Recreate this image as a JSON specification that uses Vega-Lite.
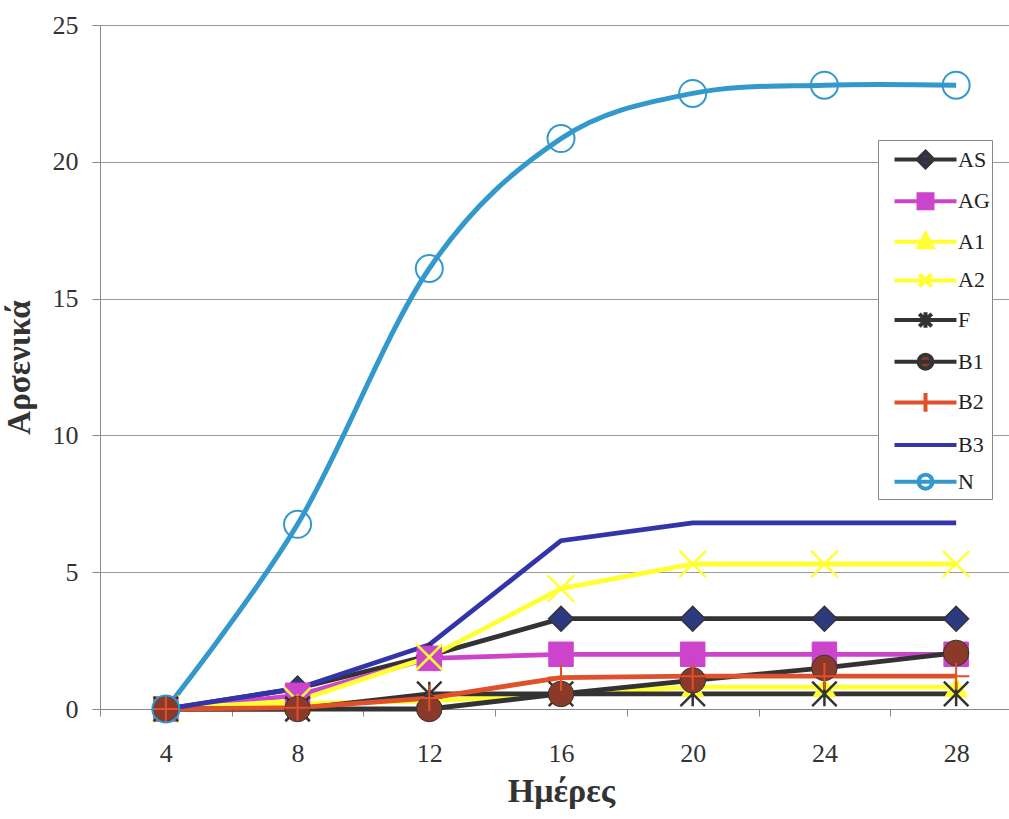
{
  "$schema": "https://vega.github.io/schema/vega-lite/v6.json",
  "width": 909,
  "height": 684,
  "autosize": "none",
  "padding": {"left": 100, "top": 25, "right": 0, "bottom": 110},
  "background": "white",
  "config": {
    "view": {"stroke": null},
    "axis": {
      "labelFont": "Liberation Serif",
      "titleFont": "Liberation Serif",
      "labelColor": "#333333",
      "titleColor": "#333333",
      "domainColor": "#888888",
      "tickColor": "#888888",
      "gridColor": "#9a9a9a"
    }
  },
  "data": {
    "values": [
      {"day": 4, "series": "AS", "value": 0}, {"day": 8, "series": "AS", "value": 0.75}, {"day": 12, "series": "AS", "value": 1.95}, {"day": 16, "series": "AS", "value": 3.3}, {"day": 20, "series": "AS", "value": 3.3}, {"day": 24, "series": "AS", "value": 3.3}, {"day": 28, "series": "AS", "value": 3.3},
      {"day": 4, "series": "AG", "value": 0}, {"day": 8, "series": "AG", "value": 0.5}, {"day": 12, "series": "AG", "value": 1.85}, {"day": 16, "series": "AG", "value": 2.0}, {"day": 20, "series": "AG", "value": 2.0}, {"day": 24, "series": "AG", "value": 2.0}, {"day": 28, "series": "AG", "value": 2.0},
      {"day": 4, "series": "A1", "value": 0}, {"day": 8, "series": "A1", "value": 0.2}, {"day": 12, "series": "A1", "value": 0.3}, {"day": 16, "series": "A1", "value": 0.55}, {"day": 20, "series": "A1", "value": 0.8}, {"day": 24, "series": "A1", "value": 0.8}, {"day": 28, "series": "A1", "value": 0.8},
      {"day": 4, "series": "A2", "value": 0}, {"day": 8, "series": "A2", "value": 0.3}, {"day": 12, "series": "A2", "value": 1.9}, {"day": 16, "series": "A2", "value": 4.4}, {"day": 20, "series": "A2", "value": 5.3}, {"day": 24, "series": "A2", "value": 5.3}, {"day": 28, "series": "A2", "value": 5.3},
      {"day": 4, "series": "F", "value": 0}, {"day": 8, "series": "F", "value": 0}, {"day": 12, "series": "F", "value": 0.55}, {"day": 16, "series": "F", "value": 0.55}, {"day": 20, "series": "F", "value": 0.55}, {"day": 24, "series": "F", "value": 0.55}, {"day": 28, "series": "F", "value": 0.55},
      {"day": 4, "series": "B1", "value": 0}, {"day": 8, "series": "B1", "value": 0}, {"day": 12, "series": "B1", "value": 0}, {"day": 16, "series": "B1", "value": 0.55}, {"day": 20, "series": "B1", "value": 1.05}, {"day": 24, "series": "B1", "value": 1.5}, {"day": 28, "series": "B1", "value": 2.05},
      {"day": 4, "series": "B2", "value": 0}, {"day": 8, "series": "B2", "value": 0.05}, {"day": 12, "series": "B2", "value": 0.4}, {"day": 16, "series": "B2", "value": 1.15}, {"day": 20, "series": "B2", "value": 1.2}, {"day": 24, "series": "B2", "value": 1.2}, {"day": 28, "series": "B2", "value": 1.2},
      {"day": 4, "series": "B3", "value": 0}, {"day": 8, "series": "B3", "value": 0.75}, {"day": 12, "series": "B3", "value": 2.35}, {"day": 16, "series": "B3", "value": 6.15}, {"day": 20, "series": "B3", "value": 6.8}, {"day": 24, "series": "B3", "value": 6.8}, {"day": 28, "series": "B3", "value": 6.8},
      {"day": 4, "series": "N", "value": 0}, {"day": 8, "series": "N", "value": 6.75}, {"day": 12, "series": "N", "value": 16.1}, {"day": 16, "series": "N", "value": 20.85}, {"day": 20, "series": "N", "value": 22.5}, {"day": 24, "series": "N", "value": 22.8}, {"day": 28, "series": "N", "value": 22.8}
    ]
  },
  "encoding": {
    "x": {
      "field": "day",
      "type": "ordinal",
      "scale": {"type": "band", "range": [0, 922], "paddingInner": 0, "paddingOuter": 0},
      "axis": {
        "title": "Ημέρες",
        "labelAngle": 0,
        "tickBand": "extent",
        "tickSize": 7,
        "labelPadding": 24,
        "labelFontSize": 26,
        "titleFontSize": 34,
        "titleFontWeight": "bold",
        "titlePadding": 8,
        "grid": false
      }
    },
    "y": {
      "field": "value",
      "type": "quantitative",
      "scale": {"domain": [0, 25], "nice": false},
      "axis": {
        "title": "Αρσενικά",
        "values": [0, 5, 10, 15, 20, 25],
        "tickSize": 8,
        "labelPadding": 14,
        "labelFontSize": 26,
        "titleFontSize": 33,
        "titleFontWeight": "bold",
        "titlePadding": 16,
        "grid": true
      }
    },
    "stroke": {
      "field": "series",
      "type": "nominal",
      "scale": {
        "domain": ["AS", "AG", "A1", "A2", "F", "B1", "B2", "B3", "N"],
        "range": ["#333333", "#CC44CC", "#FFFF33", "#FFFF33", "#333333", "#333333", "#E0502A", "#3333AA", "#3399CC"]
      },
      "legend": {
        "title": null,
        "orient": "none",
        "legendX": 778,
        "legendY": 115,
        "labelFont": "Liberation Serif",
        "labelFontSize": 22,
        "labelColor": "#222222",
        "symbolSize": 961,
        "symbolStrokeWidth": 4,
        "symbolOffset": 28,
        "strokeColor": "#888888",
        "fillColor": "white",
        "padding": 2,
        "rowPadding": 7.65,
        "labelOffset": 15,
        "encode": {
          "symbols": {
            "update": {
              "shape": {"signal": "datum.value==='AS'?'M-2,0H2M0,-0.5L0.5,0L0,0.5L-0.5,0Z':datum.value==='AG'?'M-2,0H2M-0.45,-0.45H0.45V0.45H-0.45Z':datum.value==='A1'?'M-2,0H2M0,-0.5L0.45,0.35H-0.45Z':datum.value==='A2'?'M-2,0H2M-0.4,-0.4L0.4,0.4M-0.4,0.4L0.4,-0.4':datum.value==='F'?'M-2,0H2M-0.4,-0.4L0.4,0.4M-0.4,0.4L0.4,-0.4M0,-0.5V0.5':datum.value==='B1'?'M-2,0H2M-0.45,0A0.45,0.45,0,1,1,0.45,0A0.45,0.45,0,1,1,-0.45,0Z':datum.value==='B2'?'M-2,0H2M0,-0.6V0.6':datum.value==='N'?'M-2,0H2M-0.45,0A0.45,0.45,0,1,1,0.45,0A0.45,0.45,0,1,1,-0.45,0Z':'M-2,0H2'"},
              "fill": {"signal": "datum.value==='AS'?'#2E3A80':datum.value==='AG'?'#CC44CC':datum.value==='A1'?'#FFFF33':datum.value==='B1'?'#8B3A2A':'transparent'"}
            }
          }
        }
      }
    }
  },
  "layer": [
    {
      "transform": [{"filter": "datum.series !== 'N'"}],
      "mark": {"type": "line", "strokeWidth": 4.8}
    },
    {
      "transform": [{"filter": "datum.series === 'N'"}],
      "mark": {"type": "line", "strokeWidth": 5, "interpolate": "cardinal"}
    },
    {
      "transform": [{"filter": "datum.series === 'AS'"}],
      "mark": {"type": "point", "shape": "diamond", "filled": true, "fill": "#2E3A80", "size": 620, "strokeWidth": 1.5, "opacity": 1}
    },
    {
      "transform": [{"filter": "datum.series === 'AG'"}],
      "mark": {"type": "point", "shape": "square", "filled": true, "fill": "#CC44CC", "size": 600, "strokeWidth": 1, "opacity": 1}
    },
    {
      "transform": [{"filter": "datum.series === 'A1'"}],
      "mark": {"type": "point", "shape": "triangle-up", "filled": true, "fill": "#FFFF33", "size": 500, "strokeWidth": 1, "opacity": 1}
    },
    {
      "transform": [{"filter": "datum.series === 'A2'"}],
      "mark": {"type": "point", "shape": "M-1,-1L1,1M-1,1L1,-1", "filled": false, "size": 700, "strokeWidth": 2.5, "opacity": 1}
    },
    {
      "transform": [{"filter": "datum.series === 'F'"}],
      "mark": {"type": "point", "shape": "M-1,-1L1,1M-1,1L1,-1M0,-1L0,1", "filled": false, "size": 600, "strokeWidth": 2.5, "opacity": 1}
    },
    {
      "transform": [{"filter": "datum.series === 'B1'"}],
      "mark": {"type": "point", "shape": "circle", "filled": true, "fill": "#8B3A2A", "size": 650, "strokeWidth": 1, "opacity": 1}
    },
    {
      "transform": [{"filter": "datum.series === 'B2'"}],
      "mark": {"type": "point", "shape": "M0,-1L0,1M-1,0L1,0", "filled": false, "size": 700, "strokeWidth": 2, "opacity": 1}
    },
    {
      "transform": [{"filter": "datum.series === 'N'"}],
      "mark": {"type": "point", "shape": "circle", "filled": false, "size": 729, "strokeWidth": 2, "opacity": 1}
    }
  ]
}
